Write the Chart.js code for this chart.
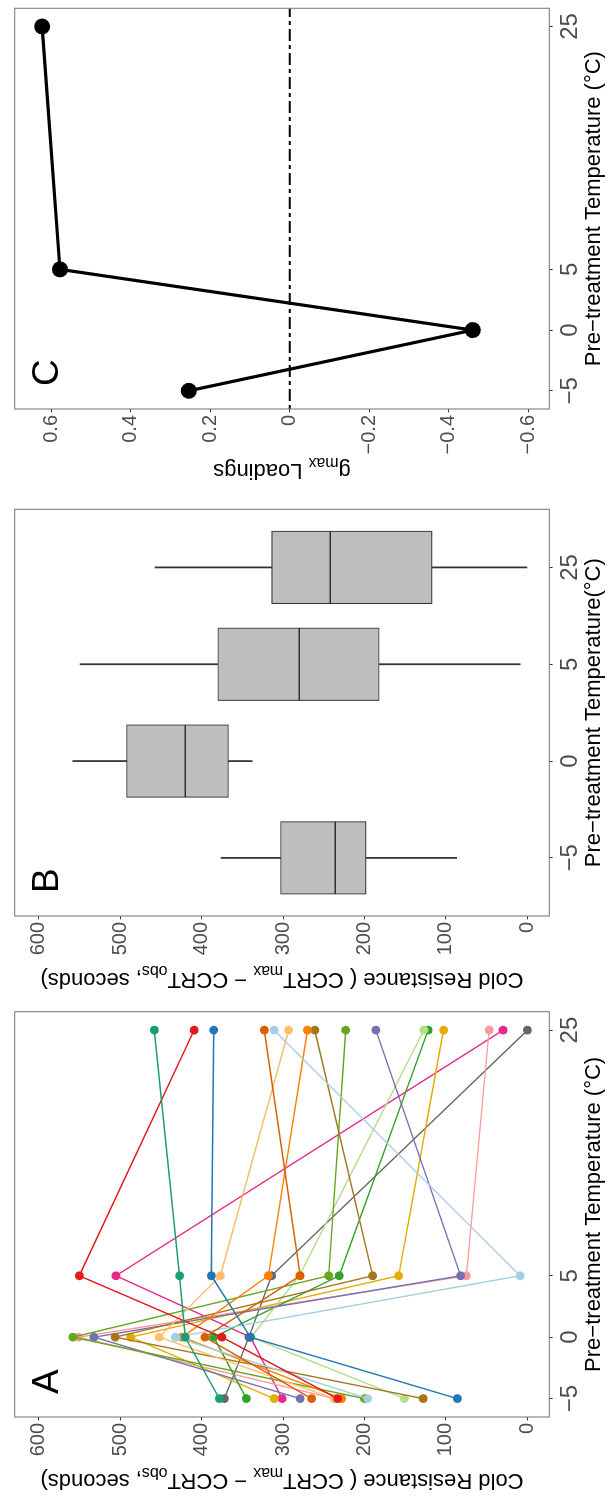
<!DOCTYPE html>
<html>
<head>
<meta charset="utf-8">
<script src="https://cdn.jsdelivr.net/npm/chart.js@4.4.1/dist/chart.umd.min.js"></script>
<style>
  html, body { margin: 0; padding: 0; background: #fff; overflow: hidden; }
  /* the three panels are laid out side by side, then the whole strip is turned 90deg */
  #fig { position: absolute; left: 0; top: 0; width: 1497px; height: 608px;
         transform-origin: 0 0; transform: translate(0, 1497px) rotate(-90deg); }
  #fig canvas { position: absolute; top: 0; }
</style>
</head>
<body>
<div id="fig">
  <canvas id="panelA" width="499" height="608" style="left:0px"></canvas>
  <canvas id="panelB" width="499" height="608" style="left:499px"></canvas>
  <canvas id="panelC" width="499" height="608" style="left:998px"></canvas>
</div>
<script>
// ---- data ----
const temps = [-5, 0, 5, 25];
const tempTicks = [-5, 0, 5, 25];
const resTicks = [0, 100, 200, 300, 400, 500, 600];
const loadTicks = [-0.6, -0.4, -0.2, 0, 0.2, 0.4, 0.6];
const boxCats = ['-5', '0', '5', '25'];

// panel A: one line per genotype, values at -5, 0, 5, 25 C
const tealRes = [378, 420, 427, 458];
const redRes = [233, 375, 550, 409];
const blueRes = [86, 340, 388, 385];
const darkOrangeRes = [265, 396, 279, 323];
const lightBlueRes = [196, 432, 9, 311];
const lightOrangeRes = [237, 452, 377, 293];
const orangeRes = [228, 424, 318, 270];
const brownRes = [128, 506, 190, 261];
const oliveRes = [200, 558, 244, 223];
const purpleRes = [279, 532, 82, 186];
const lightGreenRes = [151, 339, 280, 127];
const greenRes = [345, 385, 231, 122];
const goldRes = [311, 487, 158, 103];
const pinkRes = [237, 551, 75, 47];
const magentaRes = [301, 340, 505, 30];
const greyRes = [372, 342, 314, 0];

// panel B: box plot summaries per temperature
const boxLow = [87, 338, 9, 0];
const boxQ1 = [198, 367, 182, 117];
const boxMed = [236, 420, 280, 242];
const boxQ3 = [303, 492, 380, 314];
const boxHigh = [376, 558, 549, 457];

// panel C: gmax loadings
const loadings = [0.254, -0.46, 0.578, 0.623];
const refLine = 0;

const FONT = "'Liberation Sans', Arial, Helvetica, sans-serif";

const lines = [
  ['#1B9E77', tealRes], ['#E31A1C', redRes], ['#1F78B4', blueRes],
  ['#D95F02', darkOrangeRes], ['#A6CEE3', lightBlueRes], ['#FDBF6F', lightOrangeRes],
  ['#FF7F00', orangeRes], ['#A6761D', brownRes], ['#66A61E', oliveRes],
  ['#7570B3', purpleRes], ['#B2DF8A', lightGreenRes], ['#33A02C', greenRes],
  ['#E6AB02', goldRes], ['#FB9A99', pinkRes], ['#E7298A', magentaRes],
  ['#666666', greyRes]
];

const fmt = v => (v < 0 ? '\u2212' + Math.abs(v) : String(v));

function scale(pos, min, max, ticks, size, fontSize, pad, cb) {
  return {
    type: 'linear', position: pos, min: min, max: max, offset: false,
    afterBuildTicks: s => { s.ticks = ticks.map(v => ({ value: v })); },
    afterFit: s => { if (pos === 'left') s.width = size; else s.height = size; },
    ticks: {
      autoSkip: false, maxRotation: 0, minRotation: 0, padding: pad,
      color: '#4d4d4d', font: { family: FONT, size: fontSize },
      callback: cb || (v => fmt(v))
    },
    grid: { offset: false, drawOnChartArea: false, drawTicks: true, tickLength: 3.3, tickColor: '#333', tickWidth: 1 },
    border: { display: false }
  };
}

function richWidth(ctx, parts, size) {
  let w = 0;
  parts.forEach(p => {
    ctx.font = (p.sub ? size * 0.72 : size) + 'px ' + FONT;
    w += ctx.measureText(p.t).width;
  });
  return w;
}

function drawRich(ctx, parts, size, x, y) {
  parts.forEach(p => {
    const s = p.sub ? size * 0.72 : size;
    ctx.font = s + 'px ' + FONT;
    ctx.fillText(p.t, x, y + (p.sub ? size * 0.3 : 0));
    x += ctx.measureText(p.t).width;
  });
}

const panelDecor = {
  id: 'panelDecor',
  beforeDatasetsDraw(chart, args, o) {
    if (o.refLine === undefined) return;
    const { ctx, chartArea: ca } = chart;
    const y = chart.scales.y.getPixelForValue(o.refLine);
    ctx.save();
    ctx.strokeStyle = '#000';
    ctx.lineWidth = 2;
    ctx.setLineDash([4, 4, 12, 4]);
    ctx.beginPath();
    ctx.moveTo(ca.left, y);
    ctx.lineTo(ca.right, y);
    ctx.stroke();
    ctx.restore();
  },
  afterDraw(chart, args, o) {
    const { ctx, chartArea: ca } = chart;
    ctx.save();
    ctx.strokeStyle = '#7f7f7f';
    ctx.lineWidth = 1.1;
    ctx.strokeRect(ca.left, ca.top, ca.right - ca.left, ca.bottom - ca.top);

    ctx.fillStyle = '#000';
    ctx.textAlign = 'left';
    ctx.textBaseline = 'alphabetic';
    ctx.font = '37px ' + FONT;
    ctx.fillText(o.letter, ca.left + 23, ca.top + 43);

    const xw = richWidth(ctx, o.xTitle, 22);
    drawRich(ctx, o.xTitle, 22, (ca.left + ca.right) / 2 - xw / 2, o.xTitleY);

    const yw = richWidth(ctx, o.yTitle, 22);
    ctx.translate(o.yTitleX, (ca.top + ca.bottom) / 2);
    ctx.rotate(-Math.PI / 2);
    drawRich(ctx, o.yTitle, 22, -yw / 2, 0);
    ctx.restore();
  }
};

const resTitle = [
  { t: 'Cold Resistance ( CCRT' }, { t: 'max', sub: true },
  { t: ' \u2212 CCRT' }, { t: 'obs', sub: true }, { t: ', seconds)' }
];

function baseOptions(pad, decor) {
  return {
    responsive: false, animation: false, devicePixelRatio: 1,
    layout: { padding: pad },
    plugins: { legend: { display: false }, tooltip: { enabled: false }, panelDecor: decor }
  };
}

// ---- panel A ----
const optA = baseOptions({ top: 11.3, right: 13.7, left: 0, bottom: 0 }, {
  letter: 'A', xTitleY: 600, yTitleX: 22.5, yTitle: resTitle,
  xTitle: [{ t: 'Pre\u2212treatment Temperature (\u00B0C)' }]
});
optA.scales = {
  x: scale('bottom', -6.5, 26.5, tempTicks, 58.7, 24, 3),
  y: scale('left', -26.8, 629.3, resTicks, 80, 20, 2.7)
};
new Chart(document.getElementById('panelA'), {
  type: 'line',
  data: {
    datasets: lines.map(([c, vals]) => ({
      data: temps.map((t, i) => ({ x: t, y: vals[i] })),
      borderColor: c, backgroundColor: c, pointBackgroundColor: c,
      borderWidth: 1.4, pointRadius: 4.4, pointBorderWidth: 0, fill: false, tension: 0
    }))
  },
  options: optA,
  plugins: [panelDecor]
});

// ---- panel B ----
const optB = baseOptions({ top: 11.3, right: 10.3, left: 0, bottom: 0 }, {
  letter: 'B', xTitleY: 600, yTitleX: 25.4, yTitle: resTitle,
  xTitle: [{ t: 'Pre\u2212treatment Temperature(\u00B0C)' }]
});
optB.scales = {
  x: scale('bottom', 0.4, 4.6, [1, 2, 3, 4], 58.7, 24, 3, v => fmt(Number(boxCats[v - 1]))),
  y: scale('left', -26.8, 629.3, resTicks, 82, 20, 2.7)
};
const catX = boxCats.map((c, i) => i + 1);
const boxStyle = { backgroundColor: '#bebebe', borderColor: '#333', borderWidth: 1.1,
                   borderSkipped: false, barThickness: 72.7, grouped: false };
const whiskerStyle = { backgroundColor: '#333', borderWidth: 0, barThickness: 1.1, grouped: false };
new Chart(document.getElementById('panelB'), {
  type: 'bar',
  data: {
    datasets: [
      Object.assign({ data: catX.map((x, i) => ({ x: x, y: [boxQ1[i], boxMed[i]] })) }, boxStyle),
      Object.assign({ data: catX.map((x, i) => ({ x: x, y: [boxMed[i], boxQ3[i]] })) }, boxStyle),
      Object.assign({ data: catX.map((x, i) => ({ x: x, y: [boxLow[i], boxQ1[i]] })) }, whiskerStyle),
      Object.assign({ data: catX.map((x, i) => ({ x: x, y: [boxQ3[i], boxHigh[i]] })) }, whiskerStyle)
    ]
  },
  options: optB,
  plugins: [panelDecor]
});

// ---- panel C ----
const optC = baseOptions({ top: 8.3, right: 8.3, left: 0, bottom: 0 }, {
  letter: 'C', xTitleY: 600, yTitleX: 34.5, refLine: refLine,
  yTitle: [{ t: 'g' }, { t: 'max', sub: true }, { t: ' Loadings' }],
  xTitle: [{ t: 'Pre\u2212treatment Temperature (\u00B0C)' }]
});
optC.scales = {
  x: scale('bottom', -6.5, 26.5, tempTicks, 58.7, 24, 3),
  y: scale('left', -0.6525, 0.692, loadTicks, 90, 20, 2.7)
};
new Chart(document.getElementById('panelC'), {
  type: 'line',
  data: {
    datasets: [{
      data: temps.map((t, i) => ({ x: t, y: loadings[i] })),
      borderColor: '#000', backgroundColor: '#000', pointBackgroundColor: '#000',
      borderWidth: 3.2, pointRadius: 8, pointBorderWidth: 0, fill: false, tension: 0
    }]
  },
  options: optC,
  plugins: [panelDecor]
});
</script>
</body>
</html>
